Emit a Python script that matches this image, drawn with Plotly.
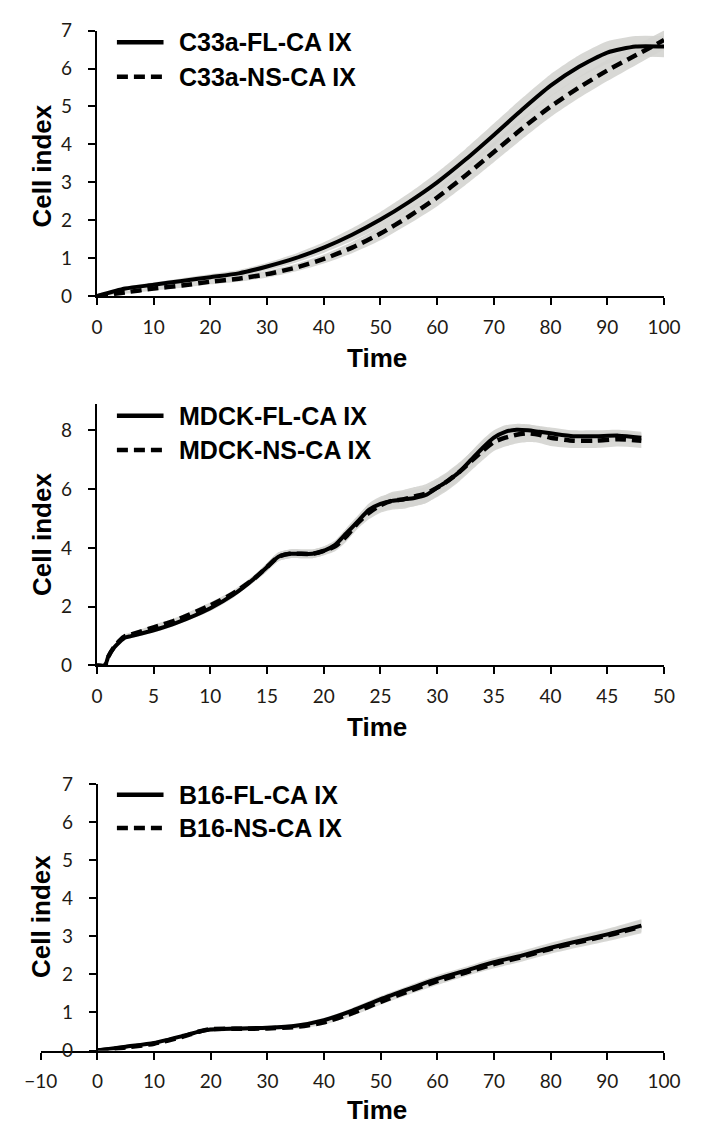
import plotly.graph_objects as go

# ---------------- data ----------------
# Panel 1: C33a
c33a_time = [0, 5, 10, 15, 20, 25, 30, 35, 40, 45, 50, 55, 60, 65, 70, 75, 80, 85, 90, 95, 100]
c33a_fl = [0.0, 0.2, 0.3, 0.4, 0.5, 0.6, 0.78, 1.0, 1.28, 1.62, 2.02, 2.48, 3.0, 3.6, 4.25, 4.92, 5.55, 6.05, 6.42, 6.58, 6.58]
c33a_fl_err = [0.02, 0.05, 0.06, 0.07, 0.08, 0.09, 0.1, 0.12, 0.14, 0.17, 0.2, 0.23, 0.26, 0.28, 0.3, 0.3, 0.3, 0.3, 0.3, 0.28, 0.28]
c33a_ns = [0.0, 0.1, 0.2, 0.28, 0.38, 0.46, 0.58, 0.75, 0.98, 1.28, 1.65, 2.1, 2.6, 3.18, 3.8, 4.42, 5.0, 5.5, 5.95, 6.35, 6.75]
c33a_ns_err = [0.02, 0.04, 0.05, 0.06, 0.07, 0.08, 0.09, 0.1, 0.12, 0.15, 0.18, 0.2, 0.23, 0.25, 0.27, 0.28, 0.28, 0.28, 0.28, 0.26, 0.25]

# Panel 2: MDCK
mdck_time = [0, 0.7, 1, 1.5, 2, 2.5, 3, 5, 7, 10, 12, 14, 15, 16, 17, 19, 20, 21, 22, 23, 24, 25, 26, 27, 28, 29, 30,
             31, 32, 33, 34, 35, 36, 37, 38, 39, 40, 42, 44, 46, 48]
mdck_fl = [0.0, 0.0, 0.3, 0.6, 0.8, 0.95, 1.0, 1.2, 1.45, 1.95, 2.4, 3.0, 3.35, 3.7, 3.8, 3.8, 3.9, 4.1, 4.5, 4.9, 5.3,
           5.5, 5.6, 5.65, 5.7, 5.8, 6.05, 6.3, 6.6, 7.0, 7.4, 7.75, 7.95, 8.02, 8.0, 7.95, 7.9, 7.8, 7.8, 7.82, 7.75]
mdck_fl_err = [0.02, 0.02, 0.04, 0.05, 0.06, 0.07, 0.07, 0.08, 0.08, 0.1, 0.1, 0.12, 0.14, 0.15, 0.15, 0.15, 0.15, 0.16,
               0.18, 0.2, 0.22, 0.25, 0.26, 0.27, 0.28, 0.28, 0.28, 0.28, 0.28, 0.28, 0.28, 0.25, 0.22, 0.2, 0.2, 0.2,
               0.2, 0.2, 0.2, 0.2, 0.2]
mdck_ns = [0.0, 0.0, 0.3, 0.62, 0.85, 1.0, 1.05, 1.3, 1.55, 2.05, 2.45, 3.0, 3.35, 3.7, 3.8, 3.8, 3.9, 4.05, 4.4, 4.85,
           5.2, 5.45, 5.6, 5.65, 5.75, 5.85, 6.05, 6.3, 6.6, 6.95, 7.3, 7.6, 7.75, 7.85, 7.9, 7.85, 7.75, 7.65, 7.65,
           7.7, 7.65]
mdck_ns_err = [0.02, 0.02, 0.04, 0.05, 0.06, 0.07, 0.07, 0.08, 0.08, 0.1, 0.1, 0.12, 0.14, 0.15, 0.15, 0.15, 0.15, 0.16,
               0.18, 0.2, 0.22, 0.25, 0.3, 0.32, 0.32, 0.32, 0.32, 0.32, 0.32, 0.32, 0.32, 0.3, 0.3, 0.3, 0.3, 0.28,
               0.28, 0.25, 0.25, 0.25, 0.25]

# Panel 3: B16
b16_time = [0, 5, 10, 15, 18, 20, 25, 30, 35, 40, 45, 50, 55, 60, 65, 70, 75, 80, 85, 90, 96]
b16_fl = [0.0, 0.1, 0.2, 0.38, 0.5, 0.55, 0.58, 0.6, 0.65, 0.8, 1.05, 1.35, 1.62, 1.88, 2.1, 2.32, 2.5, 2.7, 2.88,
          3.05, 3.28]
b16_fl_err = [0.01, 0.02, 0.03, 0.04, 0.04, 0.05, 0.05, 0.05, 0.05, 0.06, 0.07, 0.08, 0.09, 0.1, 0.1, 0.11, 0.12,
              0.13, 0.14, 0.15, 0.17]
b16_ns = [0.0, 0.08, 0.18, 0.36, 0.5, 0.56, 0.57, 0.58, 0.62, 0.74, 0.98, 1.28, 1.56, 1.82, 2.05, 2.27, 2.46, 2.67,
          2.85, 3.02, 3.25]
b16_ns_err = [0.01, 0.02, 0.03, 0.04, 0.04, 0.05, 0.05, 0.05, 0.05, 0.06, 0.07, 0.08, 0.09, 0.1, 0.1, 0.11, 0.12,
              0.13, 0.14, 0.15, 0.17]

legend_names = [["C33a-FL-CA IX", "C33a-NS-CA IX"],
                ["MDCK-FL-CA IX", "MDCK-NS-CA IX"],
                ["B16-FL-CA IX", "B16-NS-CA IX"]]

# ---------------- figure ----------------
W, H = 701, 1135
fig = go.Figure()

BAND = "rgba(212,212,208,0.9)"
DASH = "11px,6px"


def add_band(t, y, err, xa, ya):
    lower = [v - e for v, e in zip(y, err)]
    upper = [v + e for v, e in zip(y, err)]
    fig.add_trace(go.Scatter(x=t, y=lower, xaxis=xa, yaxis=ya, mode="lines",
                             line=dict(width=0, shape="spline", smoothing=0.6), showlegend=False,
                             hoverinfo="skip"))
    fig.add_trace(go.Scatter(x=t, y=upper, xaxis=xa, yaxis=ya, mode="lines", fill="tonexty",
                             fillcolor=BAND, line=dict(width=0, shape="spline", smoothing=0.6),
                             showlegend=False, hoverinfo="skip"))


def add_line(t, y, xa, ya, dash, name):
    fig.add_trace(go.Scatter(x=t, y=y, xaxis=xa, yaxis=ya, mode="lines", name=name,
                             line=dict(color="black", width=4 if dash is None else 4.5,
                                       dash=dash if dash else "solid", shape="spline", smoothing=0.6),
                             showlegend=False))


panels = [
    (c33a_time, c33a_fl, c33a_fl_err, c33a_ns, c33a_ns_err, "x", "y"),
    (mdck_time, mdck_fl, mdck_fl_err, mdck_ns, mdck_ns_err, "x2", "y2"),
    (b16_time, b16_fl, b16_fl_err, b16_ns, b16_ns_err, "x3", "y3"),
]
for t, fl, fle, ns, nse, xa, ya in panels:
    add_band(t, fl, fle, xa, ya)
    add_band(t, ns, nse, xa, ya)
for (t, fl, fle, ns, nse, xa, ya), names in zip(panels, legend_names):
    add_line(t, ns, xa, ya, DASH, names[1])
    add_line(t, fl, xa, ya, None, names[0])


def px(x):
    return x / W


def py(y):
    return 1 - y / H


tickfont = dict(family="Lato, Open Sans, sans-serif", size=19, color="#1e1a14")
axis_common = dict(showline=True, linecolor="black", linewidth=2, ticks="outside", ticklen=7,
                   tickwidth=2, tickcolor="black", showgrid=False, zeroline=False, tickfont=tickfont,
                   fixedrange=True)

fig.update_layout(
    width=W, height=H, margin=dict(l=0, r=0, t=0, b=0),
    paper_bgcolor="white", plot_bgcolor="white", showlegend=False,
    xaxis=dict(domain=[px(84), px(680)], range=[0, 100], dtick=10, tick0=0, anchor="y",
               ticklabelstandoff=6, **axis_common),
    yaxis=dict(domain=[py(290), py(19)], range=[0, 7], dtick=1, tick0=0, anchor="x",
               ticklabelstandoff=12, **axis_common),
    xaxis2=dict(domain=[px(84), px(680)], range=[0, 50], dtick=5, tick0=0, anchor="y2",
                ticklabelstandoff=6, **axis_common),
    yaxis2=dict(domain=[py(667), py(400)], range=[0, 8.9], tickvals=[0, 2, 4, 6, 8], anchor="x2",
                ticklabelstandoff=12, **axis_common),
    xaxis3=dict(domain=[px(25), px(680)], range=[-10, 100], dtick=10, tick0=0, anchor="y3",
                ticklabelstandoff=6, **axis_common),
    yaxis3=dict(domain=[py(1060), py(788)], range=[0, 7], dtick=1, tick0=0, anchor="free",
                position=px(84), ticklabelstandoff=12, **axis_common),
)

title_font = dict(family="Liberation Sans, Arial, sans-serif", size=26, color="black")
legend_font = dict(family="Liberation Sans, Arial, sans-serif", size=25, color="black")

# axis titles
ylab_centers = [157, 533, 923]
xlab_centers = [353, 730, 1121]
for yc in ylab_centers:
    fig.add_annotation(text="<b>Cell index</b>", xref="paper", yref="paper", x=px(26), y=py(yc),
                       textangle=-90, showarrow=False, font=title_font, xanchor="center", yanchor="middle")
for yc in xlab_centers:
    fig.add_annotation(text="<b>Time</b>", xref="paper", yref="paper", x=px(378), y=py(yc),
                       showarrow=False, font=title_font, xanchor="center", yanchor="middle")

# legends
legend_rows = [(31, 66), (412, 447), (799, 833)]
for (r1, r2), names in zip(legend_rows, legend_names):
    for ry, name, dash in ((r1, names[0], "solid"), (r2, names[1], DASH)):
        fig.add_shape(type="line", xref="paper", yref="paper", x0=px(105), x1=px(154), y0=py(ry), y1=py(ry),
                      line=dict(color="black", width=4.5, dash=dash))
        fig.add_annotation(text="<b>" + name + "</b>", xref="paper", yref="paper", x=px(168), y=py(ry),
                           showarrow=False, font=legend_font, xanchor="left", yanchor="middle")

fig.write_html("out.html", config={"displayModeBar": False, "staticPlot": False},
               post_script="document.body.style.margin='0px';document.body.style.padding='0px';"
                           "document.documentElement.style.overflow='hidden';")
